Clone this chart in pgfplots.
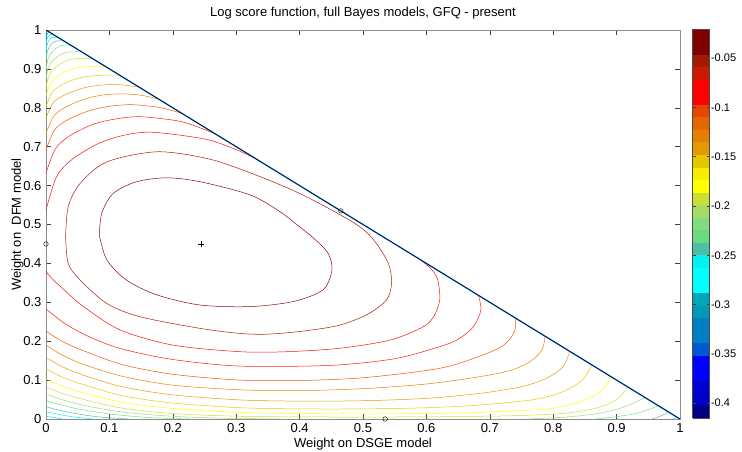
\documentclass[border=0pt]{standalone}
\usepackage{pgfplots}
\pgfplotsset{compat=1.18}
\usepackage{fontspec}
\setmainfont{Liberation Sans}
\definecolor{c1}{rgb}{0.55,0.03,0.03}
\definecolor{c2}{rgb}{0.68,0.1,0.03}
\definecolor{c3}{rgb}{0.97,0.05,0.05}
\definecolor{c4}{rgb}{1,0.1,0.05}
\definecolor{c5}{rgb}{0.92,0.35,0}
\definecolor{c6}{rgb}{0.92,0.5,0}
\definecolor{c7}{rgb}{0.9,0.62,0}
\definecolor{c8}{rgb}{0.9,0.8,0}
\definecolor{c9}{rgb}{1,1,0}
\definecolor{c10}{rgb}{0.8,0.87,0.2}
\definecolor{c11}{rgb}{0.6,0.86,0.45}
\definecolor{c12}{rgb}{0.48,0.87,0.5}
\definecolor{c13}{rgb}{0.3,0.75,0.65}
\definecolor{c14}{rgb}{0,0.95,1}
\definecolor{c15}{rgb}{0,0.9,1}
\definecolor{c16}{rgb}{0,0.65,0.75}
\definecolor{c17}{rgb}{0,0.5,0.78}
\definecolor{axgray}{rgb}{0.55,0.55,0.55}
\pgfplotsset{
  colormap={bands}{
    rgb=(0,0,0.5) rgb=(0,0,0.76) rgb=(0,0,0.82) rgb=(0,0,1) rgb=(0,0,1)
    rgb=(0,0.35,0.82) rgb=(0,0.5,0.76) rgb=(0,0.5,0.76) rgb=(0,0.6,0.72) rgb=(0,0.65,0.72)
    rgb=(0,1,1) rgb=(0,1,1) rgb=(0,0.95,0.95) rgb=(0.3,0.75,0.65) rgb=(0.42,0.85,0.5)
    rgb=(0.5,0.87,0.5) rgb=(0.65,0.86,0.4) rgb=(0.8,0.87,0.2) rgb=(1,1,0) rgb=(0.97,0.93,0)
    rgb=(0.9,0.78,0) rgb=(0.9,0.6,0) rgb=(0.9,0.5,0) rgb=(0.9,0.4,0) rgb=(0.9,0.28,0)
    rgb=(1,0,0) rgb=(1,0,0) rgb=(0.8,0.1,0) rgb=(0.65,0.1,0) rgb=(0.5,0,0) rgb=(0.5,0,0)
  }
}
\begin{document}
\fontsize{13}{15}\selectfont
\begin{tikzpicture}[x=1pt,y=1pt]
\path[use as bounding box] (-46,-32) rectangle (696,419);
\begin{axis}[
  at={(0,0)}, anchor=south west,
  scale only axis, width=634pt, height=389pt,
  xmin=0, xmax=1, ymin=0, ymax=1,
  xtick={0,0.1,0.2,0.3,0.4,0.5,0.6,0.7,0.8,0.9,1},
  ytick={0,0.1,0.2,0.3,0.4,0.5,0.6,0.7,0.8,0.9,1},
  xticklabels={0,0.1,0.2,0.3,0.4,0.5,0.6,0.7,0.8,0.9,1},
  yticklabels={0,0.1,0.2,0.3,0.4,0.5,0.6,0.7,0.8,0.9,1},
  tick align=inside, major tick length=5pt,
  tick style={black!75, line width=0.5pt},
  axis line style={axgray, line width=0.9pt},
  title={Log score function, full Bayes models, GFQ - present},
  xlabel={Weight on DSGE model},
  ylabel={Weight on \ DFM model},
  xlabel style={yshift=4pt},
  ylabel style={yshift=-9pt},
  colormap name=bands,
  colormap access=piecewise constant,
  point meta min=-0.415, point meta max=-0.0205,
  colorbar,
  colorbar style={
    at={(parent axis.north east)}, anchor=north west, xshift=4pt, yshift=1pt,
    width=17pt,
    ytick={-0.4,-0.35,-0.3,-0.25,-0.2,-0.15,-0.1,-0.05},
    yticklabels={-0.4,-0.35,-0.3,-0.25,-0.2,-0.15,-0.1,-0.05},
    tick align=inside, major tick length=3pt,
    axis line style={black!70, line width=0.5pt},
    yticklabel style={font=\fontsize{11}{13}\selectfont, xshift=-3pt},
  },
  every axis plot/.append style={line width=0.5pt},
]
% L1
\addplot[c1, smooth] coordinates {(0.084,0.473) (0.088,0.529) (0.106,0.58) (0.143,0.61) (0.19,0.62) (0.243,0.61) (0.322,0.576) (0.369,0.533) (0.40,0.494) (0.422,0.465) (0.445,0.426) (0.451,0.383) (0.437,0.332) (0.39,0.302) (0.322,0.289) (0.243,0.293) (0.175,0.319) (0.127,0.357) (0.096,0.409) (0.084,0.473)};
% L2
\addplot[c2, smooth] coordinates {(0.031,0.469) (0.035,0.546) (0.054,0.606) (0.096,0.661) (0.175,0.687) (0.253,0.670) (0.317,0.636) (0.40,0.58) (0.485,0.505) (0.516,0.462) (0.54,0.40) (0.545,0.349) (0.537,0.306) (0.506,0.268) (0.46,0.24) (0.40,0.225) (0.348,0.218) (0.306,0.22) (0.243,0.233) (0.148,0.263) (0.096,0.297) (0.054,0.357) (0.035,0.40) (0.031,0.469)};
% L3
\addplot[c3, smooth] coordinates {(0,0.537) (0.017,0.624) (0.0425,0.669) (0.085,0.71) (0.1275,0.731) (0.17,0.737) (0.2525,0.719) (0.302,0.691) (0.335,0.665)};
\addplot[c3, smooth] coordinates {(0.59,0.41) (0.608,0.385) (0.618,0.357) (0.621,0.306) (0.612,0.265) (0.595,0.237) (0.543,0.203) (0.464,0.182) (0.38,0.173) (0.306,0.173) (0.2,0.19) (0.117,0.229) (0.059,0.289) (0.03,0.33) (0.01,0.36) (0,0.379)};
% L4
\addplot[c4, smooth] coordinates {(0,0.632) (0.015,0.695) (0.0375,0.728) (0.075,0.758) (0.1125,0.772) (0.15,0.777) (0.209,0.766) (0.244,0.748) (0.268,0.732)};
\addplot[c4, smooth] coordinates {(0.682,0.318) (0.686,0.28) (0.674,0.237) (0.65,0.205) (0.621,0.186) (0.55,0.155) (0.45,0.138) (0.306,0.136) (0.2,0.153) (0.12,0.18) (0.07,0.21) (0.03,0.245) (0,0.283)};
% L5
\addplot[c5, smooth] coordinates {(0,0.692) (0.0135,0.743) (0.034,0.769) (0.0675,0.792) (0.101,0.804) (0.135,0.808) (0.175,0.802) (0.199,0.793) (0.215,0.785)};
\addplot[c5, smooth] coordinates {(0.74,0.26) (0.739,0.225) (0.722,0.19) (0.685,0.162) (0.62,0.13) (0.5,0.106) (0.4,0.099) (0.306,0.10) (0.2,0.115) (0.12,0.14) (0.06,0.175) (0.025,0.2) (0,0.226)};
% L6
\addplot[c6, smooth] coordinates {(0,0.734) (0.012,0.778) (0.03,0.801) (0.06,0.822) (0.09,0.833) (0.12,0.836) (0.149,0.8325) (0.166,0.827) (0.178,0.822)};
\addplot[c6, smooth] coordinates {(0.787,0.213) (0.783,0.18) (0.766,0.15) (0.735,0.126) (0.685,0.109) (0.6,0.09) (0.5,0.078) (0.4,0.073) (0.306,0.075) (0.2,0.087) (0.12,0.11) (0.06,0.14) (0.025,0.165) (0,0.19)};
% L7
\addplot[c7, smooth] coordinates {(0,0.773) (0.0105,0.811) (0.026,0.83) (0.0525,0.848) (0.079,0.857) (0.105,0.86) (0.126,0.858) (0.147,0.853)};
\addplot[c7, smooth] coordinates {(0.826,0.174) (0.816,0.135) (0.79,0.105) (0.75,0.083) (0.685,0.066) (0.6,0.053) (0.5,0.047) (0.4,0.046) (0.306,0.049) (0.2,0.062) (0.12,0.083) (0.06,0.112) (0.025,0.135) (0,0.158)};
% L8
\addplot[c8, smooth] coordinates {(0,0.803) (0.009,0.838) (0.0225,0.857) (0.045,0.873) (0.0675,0.881) (0.09,0.884) (0.116,0.884)};
\addplot[c8, smooth] coordinates {(0.861,0.139) (0.846,0.1) (0.815,0.07) (0.77,0.05) (0.685,0.036) (0.6,0.029) (0.5,0.026) (0.4,0.026) (0.306,0.029) (0.2,0.041) (0.12,0.06) (0.06,0.088) (0.025,0.108) (0,0.13)};
% L9
\addplot[c9, smooth] coordinates {(0,0.83) (0.007,0.863) (0.0175,0.880) (0.035,0.896) (0.0525,0.904) (0.07,0.906) (0.094,0.906)};
\addplot[c9, smooth] coordinates {(0.892,0.108) (0.874,0.07) (0.84,0.043) (0.79,0.026) (0.685,0.017) (0.6,0.014) (0.5,0.013) (0.4,0.014) (0.306,0.017) (0.2,0.027) (0.12,0.043) (0.06,0.067) (0.025,0.085) (0,0.104)};
% L10
\addplot[c10, smooth] coordinates {(0,0.854) (0.0055,0.886) (0.01375,0.902) (0.0275,0.917) (0.04125,0.925) (0.055,0.927) (0.073,0.927)};
\addplot[c10, smooth] coordinates {(0.918,0.082) (0.9,0.05) (0.87,0.029) (0.82,0.015) (0.75,0.009) (0.685,0.007) (0.6,0.0055) (0.5,0.005) (0.4,0.0055) (0.306,0.007) (0.2,0.014) (0.12,0.028) (0.06,0.05) (0.025,0.066) (0,0.083)};
% L11
\addplot[c11, smooth] coordinates {(0,0.876) (0.0042,0.906) (0.0105,0.921) (0.021,0.935) (0.0315,0.942) (0.042,0.944) (0.056,0.944)};
\addplot[c11, smooth] coordinates {(0.945,0.055) (0.91,0.03) (0.87,0.014) (0.82,0.005) (0.76,0)};
\addplot[c11, smooth] coordinates {(0.37,0) (0.28,0.002) (0.2,0.007) (0.12,0.018) (0.06,0.035) (0.025,0.05) (0,0.064)};
% L12
\addplot[c12, smooth] coordinates {(0,0.897) (0.003,0.925) (0.0075,0.939) (0.015,0.952) (0.0225,0.959) (0.03,0.961) (0.039,0.961)};
\addplot[c12, smooth] coordinates {(0.966,0.034) (0.935,0.016) (0.9,0.006) (0.866,0)};
\addplot[c12, smooth] coordinates {(0.227,0) (0.16,0.004) (0.1,0.013) (0.05,0.026) (0.02,0.038) (0,0.047)};
% L13
\addplot[c13, smooth] coordinates {(0,0.92) (0.0018,0.943) (0.0045,0.954) (0.009,0.965) (0.0135,0.970) (0.018,0.972) (0.028,0.972)};
\addplot[c13, smooth] coordinates {(0.982,0.018) (0.97,0.008) (0.956,0)};
\addplot[c13, smooth] coordinates {(0.13,0) (0.08,0.006) (0.04,0.016) (0.015,0.025) (0,0.032)};
% L14
\addplot[c14, smooth] coordinates {(0,0.94) (0.0011,0.958) (0.00275,0.967) (0.0055,0.976) (0.00825,0.980) (0.011,0.981) (0.019,0.981)};
\addplot[c14, smooth] coordinates {(0.995,0.005) (0.99,0)};
\addplot[c14, smooth] coordinates {(0.075,0) (0.045,0.005) (0.02,0.012) (0,0.019)};
% L15
\addplot[c15, smooth] coordinates {(0,0.958) (0.0007,0.971) (0.00175,0.978) (0.0035,0.984) (0.00525,0.987) (0.007,0.988) (0.012,0.988)};
\addplot[c15, smooth] coordinates {(0.025,0) (0.012,0.004) (0,0.007)};
% L16, L17
\addplot[c16, smooth] coordinates {(0,0.972) (0.0004,0.981) (0.001,0.986) (0.002,0.990) (0.003,0.992) (0.004,0.993) (0.007,0.993)};
\addplot[c17, smooth] coordinates {(0,0.984) (0.0005,0.992) (0.001,0.994) (0.002,0.996) (0.004,0.996)};
% hypotenuse (bunched contours)
\addplot[cyan!70!blue, line width=1.3pt] coordinates {(0,1) (1,0)};
\addplot[black!80!blue, line width=0.6pt] coordinates {(0,1) (1,0)};
% optima
\addplot[only marks, mark=+, mark size=3pt, black, line width=0.5pt] coordinates {(0.245,0.45)};
\addplot[only marks, mark=o, mark size=2.3pt, black, line width=0.4pt] coordinates {(0,0.45) (0.465,0.535) (0.535,0)};
\end{axis}
\end{tikzpicture}
\end{document}
